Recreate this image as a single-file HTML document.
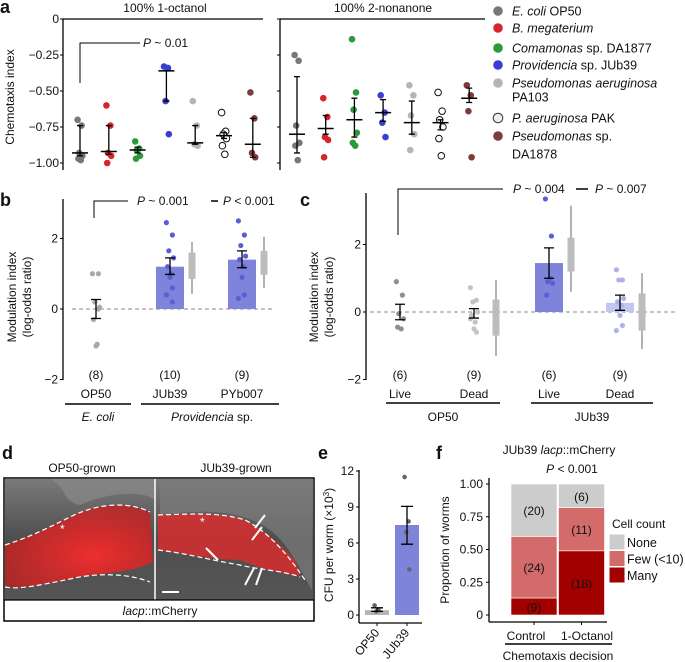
<!DOCTYPE html>
<html><head><meta charset="utf-8"><style>
html,body{margin:0;padding:0;background:#fff;}
svg{display:block;font-family:"Liberation Sans",Arial,sans-serif;}
text{fill:#111;}
</style></head><body>
<svg id="fig" width="685" height="662" viewBox="0 0 685 662" xmlns="http://www.w3.org/2000/svg">
<defs>
<radialGradient id="redL" cx="0.6" cy="0.6" r="0.7"><stop offset="0" stop-color="#ff2a2a" stop-opacity="0.9"/><stop offset="1" stop-color="#b82020" stop-opacity="0.8"/></radialGradient>
<linearGradient id="bgG" x1="0" y1="0" x2="0" y2="1"><stop offset="0" stop-color="#7a7a7a"/><stop offset="0.5" stop-color="#4e4e4e"/><stop offset="1" stop-color="#555"/></linearGradient>
</defs>
<text x="0" y="13" font-size="18" font-weight="bold">a</text>
<text x="0" y="206" font-size="18" font-weight="bold">b</text>
<text x="300" y="206" font-size="18" font-weight="bold">c</text>
<text x="2" y="459" font-size="18" font-weight="bold">d</text>
<text x="318" y="459" font-size="18" font-weight="bold">e</text>
<text x="436" y="459" font-size="18" font-weight="bold">f</text>

<g id="pa">
<text x="165" y="12" font-size="12" text-anchor="middle">100% 1-octanol</text>
<text x="383" y="12" font-size="12" text-anchor="middle">100% 2-nonanone</text>
<line x1="63" y1="19" x2="263" y2="19" stroke="#000" stroke-width="1.3"/>
<line x1="63" y1="19" x2="63" y2="170" stroke="#000" stroke-width="1.3"/>
<line x1="280" y1="19" x2="485" y2="19" stroke="#000" stroke-width="1.3"/>
<line x1="280" y1="19" x2="280" y2="170" stroke="#000" stroke-width="1.3"/>
<text transform="translate(14,97) rotate(-90)" font-size="12" text-anchor="middle">Chemotaxis index</text>
<path d="M80,83 V43 H140" fill="none" stroke="#000" stroke-width="1"/>
<text x="143" y="47" font-size="12"><tspan font-style="italic">P</tspan> ~ 0.01</text>
</g>

<g id="pb">
<line x1="63" y1="199" x2="63" y2="380" stroke="#000" stroke-width="1.3"/>
<text transform="translate(16,297) rotate(-90)" font-size="12" text-anchor="middle">Modulation index</text>
<text transform="translate(31,297) rotate(-90)" font-size="12" text-anchor="middle">(log-odds ratio)</text>
<line x1="72" y1="309" x2="274" y2="309" stroke="#888" stroke-dasharray="4,3"/>
<path d="M94,218 V201 H128" fill="none" stroke="#000" stroke-width="1"/>
<text x="137" y="205" font-size="12"><tspan font-style="italic">P</tspan> ~ 0.001</text>
<line x1="211" y1="201" x2="218" y2="201" stroke="#000" stroke-width="1.5"/>
<text x="223" y="205" font-size="12"><tspan font-style="italic">P</tspan> &lt; 0.001</text>
<line x1="65" y1="404" x2="131" y2="404" stroke="#000" stroke-width="1.5"/>
<line x1="141" y1="404" x2="279" y2="404" stroke="#000" stroke-width="1.5"/>
<text x="98" y="421" font-size="12" text-anchor="middle" font-style="italic">E. coli</text>
<text x="212" y="421" font-size="12" text-anchor="middle"><tspan font-style="italic">Providencia</tspan> sp.</text>
</g>

<g id="pc">
<line x1="366" y1="193" x2="366" y2="380" stroke="#000" stroke-width="1.3"/>
<text transform="translate(318,297) rotate(-90)" font-size="12" text-anchor="middle">Modulation index</text>
<text transform="translate(333,297) rotate(-90)" font-size="12" text-anchor="middle">(log-odds ratio)</text>
<line x1="370" y1="312" x2="677" y2="312" stroke="#888" stroke-dasharray="4,3"/>
<path d="M398,235 V189 H503" fill="none" stroke="#000" stroke-width="1"/>
<text x="513" y="193" font-size="12"><tspan font-style="italic">P</tspan> ~ 0.004</text>
<line x1="576" y1="189" x2="588" y2="189" stroke="#000" stroke-width="1.5"/>
<text x="595" y="193" font-size="12"><tspan font-style="italic">P</tspan> ~ 0.007</text>
<line x1="386" y1="403" x2="500" y2="403" stroke="#000" stroke-width="1.5"/>
<line x1="531" y1="403" x2="653" y2="403" stroke="#000" stroke-width="1.5"/>
<text x="443" y="421" font-size="12" text-anchor="middle">OP50</text>
<text x="592" y="421" font-size="12" text-anchor="middle">JUb39</text>
</g>

<g id="pd">
<text x="82" y="472" font-size="12" text-anchor="middle">OP50-grown</text>
<text x="236" y="472" font-size="12" text-anchor="middle">JUb39-grown</text>
<rect x="4" y="478" width="310" height="143" fill="#fff" stroke="#000" stroke-width="1.5"/>
<rect x="5" y="479" width="308" height="121" fill="url(#bgG)"/>
<path d="M50,479 C70,490 60,500 80,505 C100,495 140,488 155,500 L155,479 Z" fill="#8a8a8a" opacity="0.7"/>
<path d="M160,479 L160,515 C200,510 240,508 270,530 C290,545 300,570 312,590 L313,479 Z" fill="#7c7c7c" opacity="0.7"/>
<path d="M5,545 C30,537 50,527 70,517 C100,502 130,502 150,512 L153,562 C130,574 100,572 70,579 C45,584 20,590 5,587 Z" fill="url(#redL)"/>
<path d="M5,545 C30,537 50,527 70,517 C100,502 130,502 150,512" fill="none" stroke="#fff" stroke-dasharray="5,3" stroke-width="1.2"/>
<path d="M5,587 C20,590 45,584 70,579 C100,572 130,574 150,582" fill="none" stroke="#fff" stroke-dasharray="5,3" stroke-width="1.2"/>
<path d="M158,515 C190,514 220,512 245,520 C265,530 280,545 295,560 L300,575 C280,575 260,568 240,560 C210,560 185,553 158,550 Z" fill="#e02a2a" opacity="0.8"/>
<path d="M158,515 C190,514 220,512 245,520 C265,530 285,550 305,580" fill="none" stroke="#fff" stroke-dasharray="5,3" stroke-width="1.2"/>
<path d="M158,550 C185,553 210,560 240,565 C260,570 280,570 300,577" fill="none" stroke="#fff" stroke-dasharray="5,3" stroke-width="1.2"/>
<line x1="155" y1="479" x2="155" y2="600" stroke="#fff" stroke-width="1.5"/>
<text x="60" y="533" font-size="12" style="fill:#fff">*</text>
<text x="200" y="526" font-size="12" style="fill:#fff">*</text>
<g stroke="#fff" stroke-width="2">
<line x1="265" y1="515" x2="255" y2="528"/><line x1="262" y1="527" x2="252" y2="540"/>
<line x1="218" y1="560" x2="206" y2="548"/><line x1="245" y1="585" x2="254" y2="568"/><line x1="256" y1="585" x2="262" y2="568"/>
</g>
<line x1="162" y1="592" x2="179" y2="592" stroke="#fff" stroke-width="2"/>
<line x1="4" y1="600" x2="314" y2="600" stroke="#000" stroke-width="1.2"/>
<text x="160" y="615" font-size="12" text-anchor="middle"><tspan font-style="italic">lacp</tspan>::mCherry</text>
</g>

<g id="pe">
<line x1="359" y1="470" x2="359" y2="623" stroke="#000" stroke-width="1.3"/>
<line x1="359" y1="623" x2="422" y2="623" stroke="#000" stroke-width="1.3"/>
<text transform="translate(333,545) rotate(-90)" font-size="12" text-anchor="middle">CFU per worm (×10<tspan dy="-4" font-size="8">3</tspan><tspan dy="4">)</tspan></text>
</g>

<g id="pf">
<text x="559" y="454" font-size="12" text-anchor="middle">JUb39 <tspan font-style="italic">lacp</tspan>::mCherry</text>
<text x="572" y="473" font-size="12" text-anchor="middle"><tspan font-style="italic">P</tspan> &lt; 0.001</text>
<line x1="489" y1="478" x2="489" y2="622" stroke="#000" stroke-width="1.3"/>
<line x1="489" y1="622" x2="607" y2="622" stroke="#000" stroke-width="1.3"/>
<text transform="translate(449,550) rotate(-90)" font-size="12" text-anchor="middle">Proportion of worms</text>
<line x1="505" y1="644" x2="612" y2="644" stroke="#000" stroke-width="1.5"/>
<text x="558" y="660" font-size="12" text-anchor="middle">Chemotaxis decision</text>
<text x="612" y="528" font-size="12">Cell count</text>
</g>
<g id="dyn"></g>
</svg>
<script>
const aGroups = ['E. coli OP50','B. megaterium','Comamonas sp. DA1877','Providencia sp. JUb39','Pseudomonas aeruginosa PA103','P. aeruginosa PAK','Pseudomonas sp. DA1878'];
const aTicks = [0, -0.25, -0.5, -0.75, -1.0];
const aTickLabels = ['0','\u22120.25','\u22120.50','\u22120.75','\u22121.00'];
const aOctPoints = [[-0.70,-0.74,-0.93,-0.95,-0.97,-0.98],[-0.60,-0.74,-0.93,-0.95,-1.00],[-0.85,-0.90,-0.91,-0.95,-0.97],[-0.33,-0.34,-0.57,-0.80],[-0.57,-0.74,-0.87,-0.88],[-0.65,-0.78,-0.80,-0.83,-0.88,-0.94],[-0.51,-0.69,-0.93,-0.96]];
const aOctMed = [-0.93,-0.92,-0.91,-0.36,-0.86,-0.81,-0.87];
const aOctLo = [-0.95,-0.94,-0.93,-0.57,-0.87,-0.83,-0.96];
const aOctHi = [-0.74,-0.74,-0.89,-0.36,-0.74,-0.79,-0.69];
const aNonPoints = [[-0.25,-0.29,-0.74,-0.86,-0.88,-0.98],[-0.55,-0.68,-0.82,-0.84,-0.96],[-0.14,-0.51,-0.63,-0.79,-0.86,-0.88],[-0.53,-0.65,-0.72,-0.82],[-0.46,-0.53,-0.67,-0.80,-0.91],[-0.51,-0.64,-0.70,-0.75,-0.83,-0.95],[-0.46,-0.53,-0.64,-0.96]];
const aNonMed = [-0.80,-0.76,-0.70,-0.65,-0.72,-0.72,-0.55];
const aNonLo = [-0.93,-0.80,-0.82,-0.71,-0.80,-0.77,-0.58];
const aNonHi = [-0.40,-0.67,-0.55,-0.56,-0.57,-0.70,-0.48];
const bCats = ['OP50','JUb39','PYb007'];
const bN = ['(8)','(10)','(9)'];
const bMean = [0, 1.2, 1.4];
const bSeLo = [-0.27, 0.98, 1.17];
const bSeHi = [0.27, 1.45, 1.65];
const bPoints = [[1.0,1.0,0.2,0.05,-0.3,-1.0,-1.05,0.0],[2.45,2.1,1.65,1.45,1.2,1.0,0.9,0.6,0.4,0.2],[2.5,2.1,1.8,1.5,1.4,1.2,0.9,0.4,0.3]];
const bCiLo = [null, 0.43, 0.6];
const bCiHi = [null, 1.9, 2.05];
const bIqLo = [null, 0.85, 0.97];
const bIqHi = [null, 1.6, 1.65];
const bTicks = [2, 0, -2];
const cCats = ['Live','Dead','Live','Dead'];
const cN = ['(6)','(9)','(6)','(9)'];
const cMean = [0, -0.05, 1.45, 0.27];
const cSeLo = [-0.23, -0.18, 1.0, 0.05];
const cSeHi = [0.23, 0.1, 1.9, 0.5];
const cPoints = [[0.9,0.5,-0.05,-0.2,-0.45,-0.5],[0.72,0.35,0.3,0.0,-0.1,-0.3,-0.5,-0.6,-0.2],[3.35,2.25,0.9,0.85,0.5,1.0],[1.25,0.95,0.95,0.4,0.3,0.2,-0.1,-0.4,-0.55]];
const cCiLo = [null, -1.3, 0.6, -1.1];
const cCiHi = [null, 0.95, 3.15, 1.15];
const cIqLo = [null, -0.7, 1.2, -0.55];
const cIqHi = [null, 0.37, 2.2, 0.55];
const cTicks = [2, 0, -2];
const eCats = ['OP50','JUb39'];
const eMean = [0.4, 7.5];
const eSeLo = [0.3, 5.9];
const eSeHi = [0.6, 9.05];
const ePoints = [[0.8,0.4,0.3],[11.5,7.8,6.9,3.8]];
const eTicks = [0,3,6,9,12];
const fCats = ['Control','1-Octanol'];
const fLevels = ['Many','Few (<10)','None'];
const fMany = [0.13, 0.49];
const fFew = [0.47, 0.33];
const fNone = [0.40, 0.18];
const fCountMany = ['(9)','(18)'];
const fCountFew = ['(24)','(11)'];
const fCountNone = ['(20)','(6)'];
const fTicks = [0, 0.25, 0.5, 0.75, 1.0];
const fTickLabels = ['0','0.25','0.50','0.75','1.00'];

const NS='http://www.w3.org/2000/svg';
const root=document.getElementById('dyn');
function mk(tag, attrs){const e=document.createElementNS(NS,tag);for(const k in attrs)e.setAttribute(k,attrs[k]);root.appendChild(e);return e;}
function txt(x,y,s,size,anchor){const t=mk('text',{x:x,y:y,'font-size':size,'text-anchor':anchor||'start'});t.textContent=s;return t;}

const ya = v => 19 + (-v)*144;
const xaL = i => 80 + i*28.8;
const xaR = i => 297 + i*28.7;
const yb = v => 309 - v*35.25;
const xbBar = i => [96,170,242][i];
const yc = v => 312 - v*33.75;
const xcBar = i => [400,474,549,620][i];
const ye = v => 615 - v*12;
const xe = i => 377 + i*30;
const yf = v => 615 - v*131;
const xf = i => 534 + i*47.5;

const aFill = ['#777777','#d7262b','#2b9a3a','#3a3fd4','#b5b5b5','#ffffff','#7e3b3b'];
const aStroke = ['none','none','none','none','none','#111','none'];
const jit=[-3,2,-1,3,-2,1,0,2];

aTicks.forEach((v,i)=>{
  const t=txt(59,ya(v)+4,aTickLabels[i],12,'end');
  
  
  const l=mk('line',{x1:60,y1:ya(v),x2:63,y2:ya(v),stroke:'#000'});
  
  
  const l2=mk('line',{x1:277,y1:ya(v),x2:280,y2:ya(v),stroke:'#000'});
  
  
});
function drawA(points,med,lo,hi,xf_,side){
  points.forEach((arr,g)=>{
    arr.forEach((v,j)=>{
      const c=mk('circle',{cx:xf_(g)+jit[j%8]*0.8,cy:ya(v),r:3.3,fill:aFill[g],stroke:aStroke[g],'stroke-width':1});
      
      
    });
    const x=xf_(g);
    const e=mk('path',{d:`M${x},${ya(lo[g])}V${ya(hi[g])}M${x-3},${ya(lo[g])}H${x+3}M${x-3},${ya(hi[g])}H${x+3}`,stroke:'#000','stroke-width':1.3,fill:'none'});
    
    
    const m=mk('line',{x1:x-8,y1:ya(med[g]),x2:x+8,y2:ya(med[g]),stroke:'#000','stroke-width':1.5});
    
    
  });
}
drawA(aOctPoints,aOctMed,aOctLo,aOctHi,xaL,'octanol');
drawA(aNonPoints,aNonMed,aNonLo,aNonHi,xaR,'nonanone');

const legRows=[[11,'E. coli',' OP50',0],[28,'B. megaterium','',1],[48,'Comamonas',' sp. DA1877',2],[65,'Providencia',' sp. JUb39',3],[83,'Pseudomonas aeruginosa','',4],[118,'P. aeruginosa',' PAK',5],[136,'Pseudomonas',' sp.',6]];
legRows.forEach(r=>{
  const c=mk('circle',{cx:498,cy:r[0],r:4.8,fill:r[3]===5?'#eeeeee':aFill[r[3]],stroke:r[3]===5?'#333':'none'});
  
  
  const t=mk('text',{x:512,y:r[0]+4.5,'font-size':12.5});
  
  
  const s1=document.createElementNS(NS,'tspan');s1.setAttribute('font-style','italic');s1.textContent=r[1];t.appendChild(s1);
  const s2=document.createElementNS(NS,'tspan');s2.textContent=r[2];t.appendChild(s2);
});
const l1=txt(512,101.5,'PA103',12.5);


const l2=txt(512,158.5,'DA1878',12.5);



function ticksY(ticks,yf_,ax,name){
  ticks.forEach(v=>{
    const t=txt(ax-5,yf_(v)+4,v<0?'\u2212'+Math.abs(v):String(v),12,'end');
    
    
    const l=mk('line',{x1:ax-3,y1:yf_(v),x2:ax,y2:yf_(v),stroke:'#000'});
    
    
  });
}
ticksY(bTicks,yb,63,'b');
ticksY(cTicks,yc,366,'c');
function drawMod(cats,n,mean,lo,hi,pts,ciLo,ciHi,iqLo,iqHi,xf_,yf_,barCol,ptCol,name){
  cats.forEach((c,i)=>{
    const x=xf_(i);
    if(barCol[i]){
      const r=mk('rect',{x:x-14,y:Math.min(yf_(mean[i]),yf_(0)),width:28,height:Math.abs(yf_(mean[i])-yf_(0)),fill:barCol[i]});
      
      
    }
    pts[i].forEach((v,j)=>{
      const p=mk('circle',{cx:x+jit[j%8]*1.2,cy:yf_(v),r:2.6,fill:ptCol[i]});
      
      
    });
    const e=mk('path',{d:`M${x},${yf_(lo[i])}V${yf_(hi[i])}M${x-5},${yf_(lo[i])}H${x+5}M${x-5},${yf_(hi[i])}H${x+5}`,stroke:'#000','stroke-width':1.3,fill:'none'});
    
    
    if(ciLo[i]!==null){
      const gx=x+22;
      const gl=mk('line',{x1:gx,y1:yf_(ciLo[i]),x2:gx,y2:yf_(ciHi[i]),stroke:'#8a8a8a','stroke-width':1.3});
      
      
      const gr=mk('rect',{x:gx-3.5,y:yf_(iqHi[i]),width:7,height:yf_(iqLo[i])-yf_(iqHi[i]),fill:'#bdbdbd'});
      
      
    }
    const tn=txt(x,379,n[i],12,'middle');
    
    
    const tc=txt(x,398,c,12,'middle');
    
    
  });
}
drawMod(bCats,bN,bMean,bSeLo,bSeHi,bPoints,bCiLo,bCiHi,bIqLo,bIqHi,xbBar,yb,[null,'#7f84db','#7f84db'],['#aaaaaa','#5a5fd6','#5a5fd6'],'b');
drawMod(cCats,cN,cMean,cSeLo,cSeHi,cPoints,cCiLo,cCiHi,cIqLo,cIqHi,xcBar,yc,[null,null,'#7f84db','#c3c5f2'],['#8f8f8f','#c4c4c4','#5a5fd6','#aeb1ee'],'c');

eTicks.forEach(v=>{
  const t=txt(354,ye(v)+4,String(v),12,'end');
  
  
  const l=mk('line',{x1:356,y1:ye(v),x2:359,y2:ye(v),stroke:'#000'});
  
  
});
const eCol=['#b3b3b3','#7f84db'];
eCats.forEach((c,i)=>{
  const x=xe(i);
  const r=mk('rect',{x:x-12,y:ye(eMean[i]),width:24,height:ye(0)-ye(eMean[i]),fill:eCol[i]});
  
  
  ePoints[i].forEach((v,j)=>{
    const p=mk('circle',{cx:x+jit[j%8]*0.8,cy:ye(v),r:2.3,fill:'#666'});
    
    
  });
  const e=mk('path',{d:`M${x},${ye(eSeLo[i])}V${ye(eSeHi[i])}M${x-6},${ye(eSeLo[i])}H${x+6}M${x-6},${ye(eSeHi[i])}H${x+6}`,stroke:'#000','stroke-width':1.3,fill:'none'});
  
  
  const tk=mk('line',{x1:x,y1:623,x2:x,y2:626,stroke:'#000'});
  
  
  const t=mk('text',{x:x+3,y:633,'font-size':12,'text-anchor':'end',transform:`rotate(-50 ${x+3} 633)`});
  t.textContent=c;
  
  
});

fTicks.forEach((v,i)=>{
  const t=txt(483,yf(v)+4,fTickLabels[i],12,'end');
  
  
  const l=mk('line',{x1:486,y1:yf(v),x2:489,y2:yf(v),stroke:'#000'});
  
  
});
const fCol=['#a30000','#d46b6b','#cccccc'];
fCats.forEach((c,i)=>{
  const x=xf(i);
  const segs=[[fMany[i],fCountMany[i]],[fFew[i],fCountFew[i]],[fNone[i],fCountNone[i]]];
  let base=0;
  segs.forEach((s,k)=>{
    const r=mk('rect',{x:x-23,y:yf(base+s[0]),width:46,height:yf(base)-yf(base+s[0]),fill:fCol[k],stroke:'#fff','stroke-width':0.6});
    
    
    const t=txt(x,(yf(base)+yf(base+s[0]))/2+5,s[1],12,'middle');
    
    
    base+=s[0];
  });
  const tk=mk('line',{x1:x,y1:622,x2:x,y2:625,stroke:'#000'});
  
  
  const t=txt(i===0?526:587,640,c,12,'middle');
  
  
});
const legF=[['None','#cccccc'],['Few (<10)','#d46b6b'],['Many','#a30000']];
legF.forEach((l,i)=>{
  const y=534+i*16.5;
  const r=mk('rect',{x:609,y:y,width:16,height:16,fill:l[1],stroke:'#fff'});
  
  
  const t=txt(627,y+13,l[0],12.5,'start');
  
  
});
</script>
</body></html>
